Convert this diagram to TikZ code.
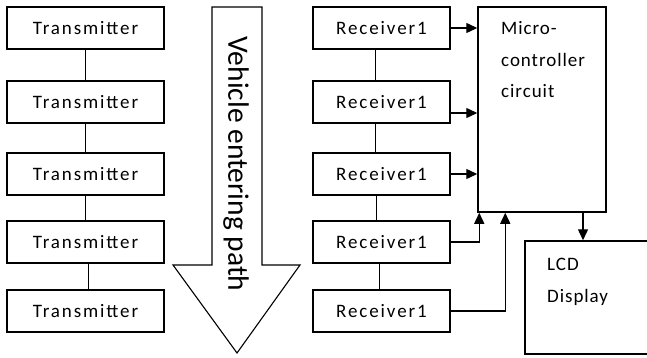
\documentclass[tikz,border=0pt]{standalone}
\usepackage{fontspec}
\setmainfont{Carlito}
\newfontfamily\boxfont[LetterSpace=10]{Carlito}
\newfontfamily\notefont[LetterSpace=5]{Carlito}
\usetikzlibrary{arrows.meta,calc}
\begin{document}
\begin{tikzpicture}[x=1pt,y=-1pt,
  every node/.style={font=\fontsize{19}{22}\selectfont},
  unit/.style={draw, line width=1.5pt, minimum height=42pt, inner sep=0pt,
    font=\boxfont\fontsize{19}{22}\selectfont},
  txbox/.style={unit, minimum width=157pt},
  rxbox/.style={unit, minimum width=137pt},
  link/.style={line width=1.4pt},
  feed/.style={line width=1.4pt, -{Triangle[length=11pt,width=10pt]}},
  caption/.style={anchor=base west, inner sep=0pt,
    font=\notefont\fontsize{19}{22}\selectfont}
]
\useasboundingbox (0,0) rectangle (647,358);

% transmitter column
\node[txbox] (t1) at (85.5,28)  {Transmitter};
\node[txbox] (t2) at (85.5,102) {Transmitter};
\node[txbox] (t3) at (85.5,174) {Transmitter};
\node[txbox] (t4) at (85.5,242) {Transmitter};
\node[txbox] (t5) at (85.5,311) {Transmitter};
\draw[link] (t1) -- (t2);
\draw[link] (t2) -- (t3);
\draw[link] (t3) -- (t4);
\draw[link] ([xshift=3pt]t4.south) -- ([xshift=3pt]t5.north);

% direction of travel
\draw[line width=1.1pt]
  (212,7) -- (262,7) -- (262,265) -- (300,265) -- (237,353)
  -- (173,265) -- (212,265) -- cycle;
\node[rotate=-90, font=\fontsize{29.5}{31}\selectfont] (path) at (236,164)
  {Vehicle entering path};

% receiver column
\node[rxbox] (r1) at (381.5,28)  {Receiver1};
\node[rxbox] (r2) at (381.5,102) {Receiver1};
\node[rxbox] (r3) at (381.5,174) {Receiver1};
\node[rxbox] (r4) at (381.5,242) {Receiver1};
\node[rxbox] (r5) at (381.5,311) {Receiver1};
\draw[link] ([xshift=-6pt]r1.south) -- ([xshift=-6pt]r2.north);
\draw[link] ([xshift=-6pt]r2.south) -- ([xshift=-6pt]r3.north);
\draw[link] ([xshift=-5pt]r3.south) -- ([xshift=-5pt]r4.north);
\draw[link] ([xshift=-2pt]r4.south) -- ([xshift=-2pt]r5.north);

% controller and display
\node[draw, line width=1.5pt, minimum width=128pt, minimum height=205pt,
      inner sep=0pt] (mcu) at (542,109.5) {};
\node[caption] (mcu1) at (501,35) {Micro-};
\node[caption] (mcu2) at (501,67) {controller};
\node[caption] (mcu3) at (501,98) {circuit};
\node[draw, line width=1.5pt, minimum width=135pt, minimum height=113pt,
      inner sep=0pt] (lcd) at (592.5,297.5) {};
\node[caption] (lcd1) at (547,270) {LCD};
\node[caption] (lcd2) at (547,302) {Display};

% signal paths
\draw[feed] (r1.east) -- (r1.east -| mcu.west);
\draw[feed] ([yshift=-11pt]r2.east) -- ([yshift=-11pt]r2.east -| mcu.west);
\draw[feed] (r3.east) -- (r3.east -| mcu.west);
\draw[feed] (r4.east) -| ([xshift=2pt]mcu.south west);
\draw[feed] (r5.east) -| ([xshift=28pt]mcu.south west);
\draw[feed] ([xshift=41pt]mcu.south) -- ([xshift=41pt]mcu.south |- lcd.north);
\end{tikzpicture}
\end{document}
